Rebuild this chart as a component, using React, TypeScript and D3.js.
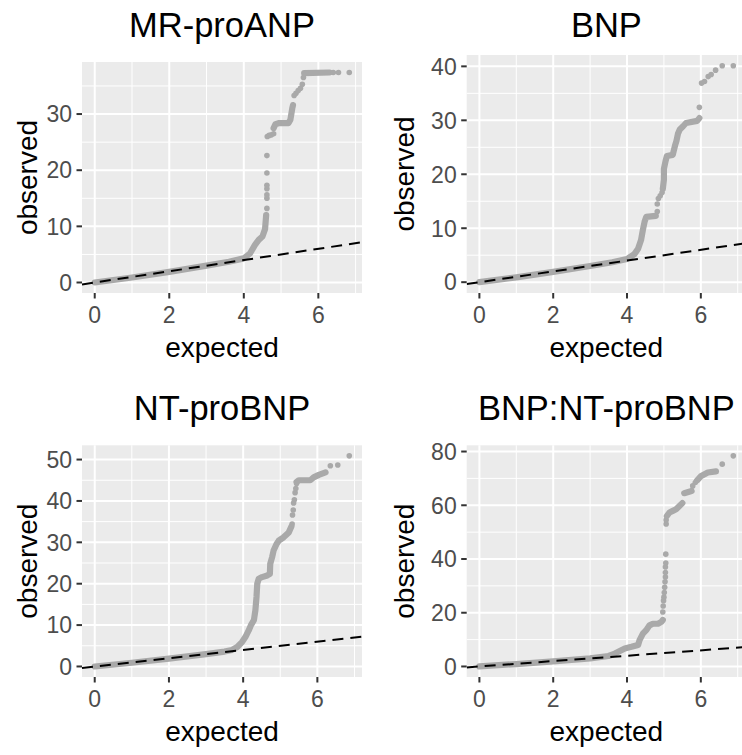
import React from "react";
import * as d3 from "d3";

type Pt = [number, number] | null;

// Panel titles and shared axis labels
const titles = ["MR-proANP", "BNP", "NT-proBNP", "BNP:NT-proBNP"];
const xLabel = "expected";
const yLabel = "observed";
const xTicks = [0, 2, 4, 6];
const yTicksMrproanp = [0, 10, 20, 30];
const yTicksBnp = [0, 10, 20, 30, 40];
const yTicksNtprobnp = [0, 10, 20, 30, 40, 50];
const yTicksRatio = [0, 20, 40, 60, 80];

// Dense runs of the QQ cloud (null breaks a run), and isolated points
const mrproanpBand: Pt[] = [
  [0, 0], [1, 0.9], [2, 1.9], [3, 3.0], [3.6, 3.7], [4, 4.3], [4.17, 5.2], [4.3, 6.7],
  [4.4, 7.6], [4.5, 8.2], [4.57, 9.5], [4.6, 12],
  null,
  [4.8, 27.5], [4.85, 28.2], [4.95, 28.4], [5.2, 28.4], [5.25, 29], [5.3, 31], [5.32, 31.6],
  null,
  [5.62, 37.3], [6.3, 37.4],
];
const mrproanpPoints: [number, number][] = [
  [4.62, 13.2], [4.62, 15], [4.62, 15.6], [4.62, 16.7], [4.62, 17.3], [4.62, 19.5], [4.62, 22.6],
  [4.63, 26], [4.68, 26.2], [4.74, 26.3], [4.8, 26.5],
  [5.35, 33.3], [5.4, 33.7], [5.46, 34.2], [5.52, 34.6], [5.57, 35.3], [5.6, 36.5],
  [6.4, 37.4], [6.54, 37.4], [6.83, 37.4],
];

const bnpBand: Pt[] = [
  [0, 0], [1, 0.9], [2, 1.9], [3, 3.0], [3.6, 3.7], [4, 4.3], [4.2, 5.2], [4.3, 6.2],
  [4.38, 7.8], [4.43, 9.7], [4.48, 11.3], [4.52, 12.1], [4.78, 12.3],
  null,
  [4.97, 17.3], [5.0, 19], [5.0, 21], [5.04, 22.3], [5.08, 23.4], [5.24, 23.6], [5.3, 25.3],
  [5.34, 26.2], [5.38, 27.5], [5.43, 28.3], [5.52, 28.9], [5.6, 29.5], [5.9, 29.9], [5.96, 30.4],
];
const bnpPoints: [number, number][] = [
  [4.82, 13.1], [4.82, 14.5], [4.85, 15.5], [4.9, 16], [4.95, 16.6],
  [5.96, 32.4], [6.02, 36.9], [6.1, 37.2], [6.2, 38.1], [6.28, 38.5], [6.4, 39.3],
  [6.58, 40.1], [6.88, 40.1],
];

const ntprobnpBand: Pt[] = [
  [0, 0], [1, 0.9], [2, 1.9], [3, 3.0], [3.5, 3.6], [3.7, 4.0], [3.84, 4.7], [3.97, 5.9],
  [4.06, 7.1], [4.15, 8.7], [4.21, 10], [4.29, 11.2], [4.33, 13.6], [4.36, 16.8], [4.38, 20],
  [4.42, 21.2], [4.51, 21.6], [4.65, 22], [4.72, 22.4], [4.73, 24.8], [4.78, 26.4], [4.82, 28],
  [4.9, 29.6], [4.96, 30.4], [5.09, 31.2], [5.23, 32.4], [5.3, 33.8],
  null,
  [5.44, 44.6], [5.5, 45], [5.81, 45], [5.9, 45.7], [6.04, 46.3], [6.22, 46.9],
];
const ntprobnpPoints: [number, number][] = [
  [5.32, 34.4], [5.33, 36.6], [5.35, 37.8], [5.36, 39.5], [5.38, 40.3], [5.4, 42],
  [5.42, 43], [5.44, 44.2],
  [6.35, 48.5], [6.55, 48.7], [6.86, 50.9],
];

const ratioBand: Pt[] = [
  [0, 0], [1, 0.9], [2, 1.9], [3, 3.0], [3.5, 3.9], [3.67, 4.8], [3.94, 6.7], [4.12, 7.3],
  [4.3, 8], [4.34, 9.8], [4.43, 12.2], [4.52, 13.5], [4.61, 15.3], [4.7, 15.9], [4.84, 15.9],
  [4.93, 16.6], [4.97, 17.3],
  null,
  [5.08, 56], [5.15, 57.3], [5.24, 57.9], [5.33, 58.5], [5.42, 59.7], [5.5, 60.8],
  null,
  [5.55, 64.5], [5.75, 65.3],
  null,
  [5.9, 69.3], [6.01, 70.9], [6.19, 72.2], [6.41, 72.6],
];
const ratioPoints: [number, number][] = [
  [4.97, 20.3], [4.98, 22.5], [4.99, 24.5], [5.0, 25.8], [5.01, 27.5], [5.02, 29.5],
  [5.03, 31.5], [5.04, 33.3], [5.04, 35], [5.04, 37], [5.05, 38.5], [5.05, 41.8],
  [5.06, 53], [5.06, 54.5],
  [5.78, 67.2], [5.85, 68.5],
  [6.58, 75.3], [6.88, 78.4],
];

const FONT = "'Liberation Sans', Arial, Helvetica, sans-serif";
const POINT = "#a9a9a9";

type Rect = { x0: number; x1: number; y0: number; y1: number };

function expand(lo: number, hi: number): [number, number] {
  const pad = (hi - lo) * 0.05;
  return [lo - pad, hi + pad];
}

function minorOf(ticks: number[], domain: [number, number]) {
  const step = ticks[1] - ticks[0];
  const out: number[] = [];
  for (let v = ticks[0] - step / 2; v <= domain[1]; v += step) {
    if (v >= domain[0]) out.push(v);
  }
  return out;
}

function Panel(props: {
  id: string;
  title: string;
  band: Pt[];
  points: [number, number][];
  yTicks: number[];
  rect: Rect;
  titleY: number;
  yTitleX: number;
}) {
  const { id, title, band, points, yTicks, rect, titleY, yTitleX } = props;
  const all = [...(band.filter(Boolean) as [number, number][]), ...points];
  const xDom = expand(0, d3.max(all, (d) => d[0])!);
  const yDom = expand(0, d3.max(all, (d) => d[1])!);
  const xs = d3.scaleLinear().domain(xDom).range([rect.x0, rect.x1]);
  const ys = d3.scaleLinear().domain(yDom).range([rect.y1, rect.y0]);
  const line = d3
    .line<Pt>()
    .defined((d) => d !== null)
    .x((d) => xs(d![0]))
    .y((d) => ys(d![1]));
  const cx = (rect.x0 + rect.x1) / 2;
  const cy = (rect.y0 + rect.y1) / 2;
  return (
    <g>
      <defs>
        <clipPath id={id}>
          <rect x={rect.x0} y={rect.y0} width={rect.x1 - rect.x0} height={rect.y1 - rect.y0} />
        </clipPath>
      </defs>
      <rect x={rect.x0} y={rect.y0} width={rect.x1 - rect.x0} height={rect.y1 - rect.y0} fill="#ebebeb" />
      {minorOf(xTicks, xDom).map((v) => (
        <line key={"mx" + v} x1={xs(v)} x2={xs(v)} y1={rect.y0} y2={rect.y1} stroke="#fff" strokeWidth={1} />
      ))}
      {minorOf(yTicks, yDom).map((v) => (
        <line key={"my" + v} x1={rect.x0} x2={rect.x1} y1={ys(v)} y2={ys(v)} stroke="#fff" strokeWidth={1} />
      ))}
      {xTicks.map((v) => (
        <line key={"gx" + v} x1={xs(v)} x2={xs(v)} y1={rect.y0} y2={rect.y1} stroke="#fff" strokeWidth={2} />
      ))}
      {yTicks.map((v) => (
        <line key={"gy" + v} x1={rect.x0} x2={rect.x1} y1={ys(v)} y2={ys(v)} stroke="#fff" strokeWidth={2} />
      ))}
      <g clipPath={`url(#${id})`}>
        <path d={line(band)!} fill="none" stroke={POINT} strokeWidth={6.2} strokeLinecap="round" strokeLinejoin="round" />
        {points.map((d, i) => (
          <circle key={i} cx={xs(d[0])} cy={ys(d[1])} r={2.8} fill={POINT} />
        ))}
        <line
          x1={xs(xDom[0])}
          y1={ys(xDom[0])}
          x2={xs(xDom[1])}
          y2={ys(xDom[1])}
          stroke="#000"
          strokeWidth={2}
          strokeDasharray="11,7"
        />
      </g>
      {xTicks.map((v) => (
        <g key={"tx" + v}>
          <line x1={xs(v)} x2={xs(v)} y1={rect.y1} y2={rect.y1 + 5.5} stroke="#333" strokeWidth={2} />
          <text x={xs(v)} y={rect.y1 + 30} textAnchor="middle" fontSize={23} fill="#4d4d4d" fontFamily={FONT}>
            {v}
          </text>
        </g>
      ))}
      {yTicks.map((v) => (
        <g key={"ty" + v}>
          <line x1={rect.x0 - 5.5} x2={rect.x0} y1={ys(v)} y2={ys(v)} stroke="#333" strokeWidth={2} />
          <text
            x={rect.x0 - 10}
            y={ys(v)}
            dy="0.36em"
            textAnchor="end"
            fontSize={23}
            fill="#4d4d4d"
            fontFamily={FONT}
          >
            {v}
          </text>
        </g>
      ))}
      <text x={cx} y={titleY} textAnchor="middle" fontSize={34.5} fill="#000" fontFamily={FONT}>
        {title}
      </text>
      <text x={cx} y={rect.y1 + 64} textAnchor="middle" fontSize={28} fill="#000" fontFamily={FONT}>
        {xLabel}
      </text>
      <text
        transform={`translate(${yTitleX},${cy}) rotate(-90)`}
        textAnchor="middle"
        fontSize={28}
        fill="#000"
        fontFamily={FONT}
      >
        {yLabel}
      </text>
    </g>
  );
}

export default function App() {
  return (
    <svg
      width={742}
      height={755}
      style={{ position: "absolute", left: 0, top: 0, background: "#fff" }}
    >
      <Panel
        id="p1"
        title={titles[0]}
        band={mrproanpBand}
        points={mrproanpPoints}
        yTicks={yTicksMrproanp}
        rect={{ x0: 82, x1: 362, y0: 62, y1: 293 }}
        titleY={37.3}
        yTitleX={36.7}
      />
      <Panel
        id="p2"
        title={titles[1]}
        band={bnpBand}
        points={bnpPoints}
        yTicks={yTicksBnp}
        rect={{ x0: 466.7, x1: 746, y0: 55, y1: 293 }}
        titleY={36.7}
        yTitleX={414.3}
      />
      <Panel
        id="p3"
        title={titles[2]}
        band={ntprobnpBand}
        points={ntprobnpPoints}
        yTicks={yTicksNtprobnp}
        rect={{ x0: 82, x1: 362, y0: 445.3, y1: 677 }}
        titleY={420.3}
        yTitleX={36.7}
      />
      <Panel
        id="p4"
        title={titles[3]}
        band={ratioBand}
        points={ratioPoints}
        yTicks={yTicksRatio}
        rect={{ x0: 466.7, x1: 746, y0: 445.3, y1: 677 }}
        titleY={419.7}
        yTitleX={414.3}
      />
    </svg>
  );
}
